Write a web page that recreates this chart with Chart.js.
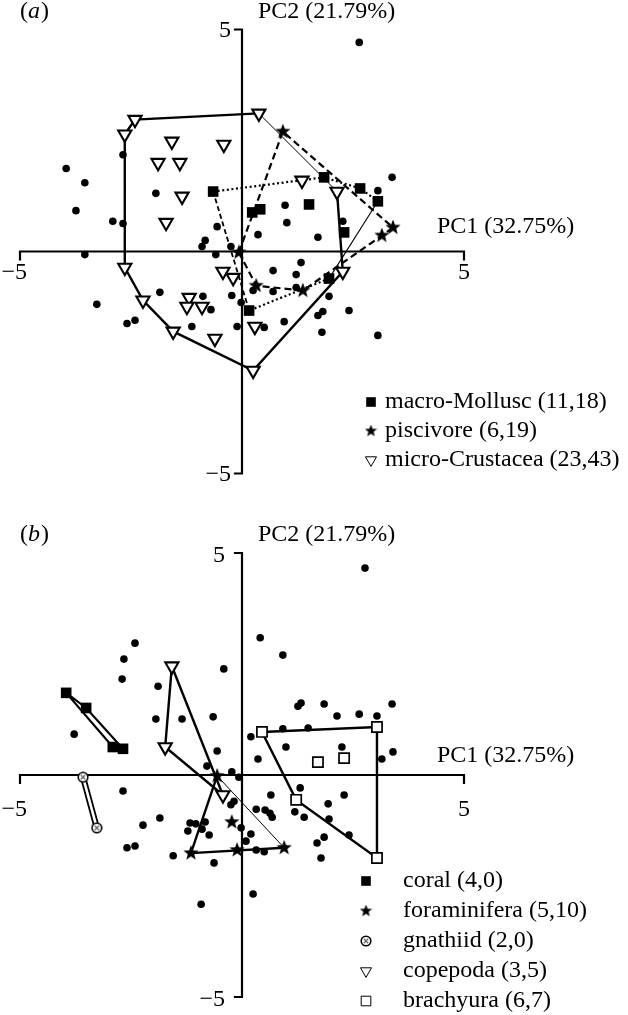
<!DOCTYPE html>
<html>
<head>
<meta charset="utf-8">
<script src="https://cdn.jsdelivr.net/npm/chart.js@4.4.0/dist/chart.umd.min.js"></script>
<style>
  html, body { margin: 0; padding: 0; background: #fff; }
  #wrap { position: relative; width: 628px; height: 1015px; }
  canvas { position: absolute; left: 0; }
</style>
</head>
<body>
<div id="wrap">
  <canvas id="chartA" width="628" height="507" style="top:0"></canvas>
  <canvas id="chartB" width="628" height="508" style="top:507px"></canvas>
</div>
<script>
// ---- panel (a) ----
const dotsAX = [-3.96,-3.54,-3.74,-2.91,-2.68,-2.68,-1.94,-0.56,-0.83,-0.90,-0.25,-0.59,-3.54,0.36,0.97,1.01,1.71,2.64,3.38,3.06,2.27,-3.27,-2.59,-2.41,-1.85,-1.13,-0.88,-0.70,-0.23,-0.02,-0.11,0.70,1.22,1.33,0.50,0.95,0.25,0.70,1.22,1.96,1.82,1.71,2.41,1.80,3.06];
const dotsAY = [1.87,1.55,0.92,0.68,0.63,2.18,1.31,0.56,0.25,0.11,0.11,-0.07,-0.07,0.38,1.04,0.65,0.32,4.71,1.67,1.37,0.68,-1.19,-1.62,-1.55,-0.92,-1.69,-1.01,-1.31,-0.99,-1.15,-1.69,-0.43,-0.52,-0.25,-1.71,-1.58,-0.88,-0.90,-0.81,-1.01,-1.35,-1.44,-1.33,-1.82,-1.89];

const molluscX = [-0.65,0.23,0.41,1.51,1.85,2.66,3.06,2.30,1.96,0.16];
const molluscY = [1.35,0.88,0.95,1.06,1.67,1.42,1.13,0.43,-0.61,-1.33];
const molluscHull = [0,4,5,6,8,9,0];

const pisciX = [0.92,3.40,3.15,1.37,0.32,-0.07];
const pisciY = [2.70,0.54,0.36,-0.88,-0.77,-0.02];
const pisciHull = [5,0,1,2,3,4,5];

const crustX = [-2.41,-2.64,0.38,-1.58,-0.41,-1.89,-1.40,-1.35,-1.71,1.35,2.14,-2.64,-2.23,-1.55,-1.19,-1.24,-0.90,-0.61,-0.43,-0.20,0.29,0.25,2.27];
const crustY = [2.97,2.64,3.11,2.48,2.41,2.00,2.00,1.24,0.65,1.60,1.35,-0.36,-1.10,-1.80,-1.04,-1.24,-1.24,-1.96,-0.45,-0.59,-1.69,-2.68,-0.45];
const crustHull = [1,0,2,10,22,21,13,12,11,1];

const legendA = ['macro-Mollusc (11,18)', 'piscivore (6,19)', 'micro-Crustacea (23,43)'];

// ---- panel (b) ----
const dotsBX = [-2.41,-2.66,-2.70,-1.89,-0.41,-3.78,-1.94,-1.35,-0.65,-0.56,-0.79,-0.23,-0.07,0.41,0.92,1.26,1.33,0.20,0.92,0.99,0.36,2.77,1.85,2.14,2.64,3.04,3.38,1.49,2.25,3.15,3.40,-2.68,-2.23,-1.85,-2.59,-2.41,-1.55,-1.17,-0.83,-1.22,-0.90,-1.04,-0.74,-0.25,-0.18,-0.02,0.20,0.09,0.32,0.52,0.63,0.68,0.32,0.50,-0.63,-0.92,0.25,0.65,1.31,1.19,1.40,1.94,1.96,2.30,2.41,1.85,1.69,1.78];
const dotsBY = [2.97,2.61,2.16,2.00,2.39,0.92,1.26,1.26,1.31,0.54,0.20,0.07,-0.05,3.09,2.70,1.55,1.62,0.86,1.04,0.63,0.36,4.66,1.60,1.33,1.37,1.33,1.60,1.06,0.63,0.36,0.52,-0.36,-1.13,-0.97,-1.64,-1.60,-1.82,-1.08,-1.06,-1.26,-1.22,-1.10,-1.35,-0.67,-0.59,-1.19,-1.33,-1.49,-0.77,-0.79,-0.86,-0.95,-1.69,-1.73,-1.98,-2.91,-2.68,-0.45,-0.29,-0.83,-0.95,-0.65,-0.99,-0.45,-1.35,-1.40,-1.53,-1.87];

const coralX = [-3.96,-3.51,-2.91,-2.68];
const coralY = [1.85,1.51,0.63,0.59];
const coralHull = [0,1,3,2,0];

const foramX = [-0.56,-0.23,-1.15,-0.11,0.95];
const foramY = [-0.02,-1.06,-1.76,-1.69,-1.64];
const foramHull = [2,0,4,2];

const gnathX = [-3.58,-3.27];
const gnathY = [-0.05,-1.19];

const copeX = [-1.58,-1.73,-0.43];
const copeY = [2.45,0.63,-0.45];
const copeHull = [0,1,2,0];

const brachX = [0.45,3.04,1.71,2.30,1.22,3.04];
const brachY = [0.97,1.08,0.29,0.38,-0.56,-1.87];
const brachHull = [0,1,5,4,0];

const legendB = ['coral (4,0)', 'foraminifera (5,10)', 'gnathiid (2,0)', 'copepoda (3,5)', 'brachyura (6,7)'];

const axisTitles = ['PC1 (32.75%)', 'PC2 (21.79%)'];
const FONT = '"Liberation Serif", "DejaVu Serif", serif';

// filled five point star as an image point style
function makeStar(size) {
  const c = document.createElement('canvas');
  c.width = c.height = size;
  const g = c.getContext('2d');
  const R = size / 2, r = R * 0.42;
  g.beginPath();
  for (let i = 0; i < 10; i++) {
    const a = -Math.PI / 2 + i * Math.PI / 5;
    const rr = i % 2 ? r : R;
    g.lineTo(R + rr * Math.cos(a), R + rr * Math.sin(a));
  }
  g.closePath();
  g.fillStyle = '#000';
  g.fill();
  return c;
}
// little open circle with a cross in it (gnathiid)
function makeGnath(size) {
  const c = document.createElement('canvas');
  c.width = c.height = size;
  const g = c.getContext('2d');
  const m = size / 2;
  g.beginPath();
  g.arc(m, m, m - 1.2, 0, Math.PI * 2);
  g.fillStyle = '#fff';
  g.fill();
  g.lineWidth = 1.6;
  g.strokeStyle = '#000';
  g.stroke();
  g.strokeStyle = '#666';
  g.lineWidth = 1.3;
  g.beginPath();
  g.moveTo(m - 2.2, m - 2.2); g.lineTo(m + 2.2, m + 2.2);
  g.moveTo(m + 2.2, m - 2.2); g.lineTo(m - 2.2, m + 2.2);
  g.stroke();
  return c;
}
const starBig = makeStar(16);
const starSmall = makeStar(13);
const gnathImg = makeGnath(12);

const pts = (xs, ys) => xs.map((x, i) => ({ x, y: ys[i] }));
const hullPts = (xs, ys, idx) => idx.map(i => ({ x: xs[i], y: ys[i] }));

// marker styles
const ST = {
  dot:    { pointStyle: 'circle', pointRadius: 3.8, pointBackgroundColor: '#000', pointBorderWidth: 0 },
  square: { pointStyle: 'rect', pointRadius: 7.5, pointBackgroundColor: '#000', pointBorderColor: '#000', pointBorderWidth: 0 },
  open:   { pointStyle: 'rect', pointRadius: 7.2, pointBackgroundColor: '#fff', pointBorderColor: '#000', pointBorderWidth: 1.7 },
  tri:    { pointStyle: 'triangle', pointRotation: 180, pointRadius: 7.6, pointBackgroundColor: '#fff', pointBorderColor: '#000', pointBorderWidth: 2.1 },
  star:   { pointStyle: starBig, pointRadius: 7 },
  gnath:  { pointStyle: gnathImg, pointRadius: 6 }
};

function markers(xs, ys, st) {
  return Object.assign({ data: pts(xs, ys), showLine: false, order: 0, clip: false }, st);
}
// hull outline; widths/dashes per segment
function hullLine(xs, ys, idx, widths, dashes, order) {
  return {
    data: hullPts(xs, ys, idx), showLine: true, pointRadius: 0, order: order || 2, clip: false,
    borderColor: '#000', borderWidth: 2.2, borderJoinStyle: 'miter', tension: 0,
    segment: {
      borderWidth: c => widths[c.p0DataIndex],
      borderDash: c => dashes[c.p0DataIndex]
    }
  };
}

// axes, titles and legend drawn on top of the library's scales
const deco = {
  id: 'deco',
  beforeDatasetsDraw(chart, args, o) {
    const { ctx, scales: { x, y } } = chart;
    const x0 = x.getPixelForValue(0), y0 = y.getPixelForValue(0);
    const xl = x.getPixelForValue(-5), xr = x.getPixelForValue(5);
    const yt = y.getPixelForValue(5), yb = y.getPixelForValue(-5);
    ctx.save();
    ctx.strokeStyle = '#000';
    ctx.lineWidth = 2.2;
    ctx.lineCap = 'square';
    ctx.beginPath();
    ctx.moveTo(xl, y0 + 8); ctx.lineTo(xl, y0); ctx.lineTo(xr, y0); ctx.lineTo(xr, y0 + 8);
    ctx.moveTo(x0 - 7, yt); ctx.lineTo(x0, yt); ctx.lineTo(x0, yb); ctx.lineTo(x0 - 7, yb);
    ctx.stroke();

    ctx.fillStyle = '#000';
    ctx.font = '24px ' + FONT;
    ctx.textBaseline = 'middle';
    ctx.textAlign = 'right';
    ctx.fillText('5', x0 - o.yLabDx, yt + o.yLabDy);
    ctx.fillText('\u22125', x0 - o.yLabDx, yb + o.yLabDy);
    ctx.fillText('\u22125', xl + 7, y0 + o.xLabDy);
    ctx.textAlign = 'center';
    ctx.fillText('5', xr, y0 + o.xLabDy);

    ctx.textAlign = 'left';
    ctx.textBaseline = 'alphabetic';
    ctx.fillText(axisTitles[1], 258, o.titleY);
    ctx.fillText(axisTitles[0], 437, y0 + o.pc1Dy);
    // panel letter
    ctx.fillText('(', 20, o.titleY);
    const w1 = ctx.measureText('(').width;
    ctx.font = 'italic 24px ' + FONT;
    ctx.fillText(o.letter, 20 + w1, o.titleY);
    const w2 = ctx.measureText(o.letter).width;
    ctx.font = '24px ' + FONT;
    ctx.fillText(')', 20 + w1 + w2 + 1, o.titleY);
    ctx.restore();
  },
  afterDraw(chart, args, o) {
    const { ctx } = chart;
    ctx.save();
    ctx.font = '24px ' + FONT;
    ctx.textBaseline = 'middle';
    ctx.textAlign = 'left';
    o.items.forEach((it, i) => {
      const yy = o.legY + i * o.legStep;
      ctx.fillStyle = it.fill;
      ctx.strokeStyle = '#000';
      Chart.helpers.drawPoint(ctx, { pointStyle: it.style, radius: it.r, rotation: it.rot || 0, borderWidth: it.bw || 0 }, o.legMX, yy);
      ctx.fillStyle = '#000';
      ctx.fillText(it.text, o.legTX, yy);
    });
    ctx.restore();
  }
};

function scaleOpts() {
  return {
    x: { type: 'linear', min: -5, max: 5, display: false },
    y: { type: 'linear', min: -5, max: 5, display: false }
  };
}

const dotted = [2, 2.6];
const dashed = [7, 4];

new Chart(document.getElementById('chartA'), {
  type: 'scatter',
  data: {
    datasets: [
      markers(molluscX, molluscY, ST.square),
      markers(pisciX, pisciY, ST.star),
      markers(crustX, crustY, ST.tri),
      Object.assign({ data: pts(dotsAX, dotsAY), order: 1, clip: false }, ST.dot),
      hullLine(crustX, crustY, crustHull, [2.4, 2.4, 1, 2.4, 2.4, 2.4, 2.4, 2.4, 2.4], [[], [], [], [], [], [], [], [], []]),
      hullLine(pisciX, pisciY, pisciHull, [2.2, 2.2, 2.2, 2.2, 2.2, 2.2], [dashed, dashed, dashed, dashed, dashed, dashed]),
      hullLine(molluscX, molluscY, molluscHull, [2.2, 2.2, 2.2, 1.1, 2.2, 1.8], [dotted, dotted, dotted, [], dotted, [5, 3]])
    ]
  },
  options: {
    responsive: false,
    animation: false,
    events: [],
    layout: { padding: { left: 20, right: 164, top: 29.5, bottom: 33.5 } },
    scales: scaleOpts(),
    plugins: {
      legend: { display: false },
      tooltip: { enabled: false },
      deco: {
        letter: 'a', titleY: 18, pc1Dy: -19, xLabDy: 21, yLabDx: 11, yLabDy: 1,
        legMX: 371, legTX: 385, legY: 402, legStep: 29,
        items: [
          { text: legendA[0], style: 'rect', r: 6.8, fill: '#000' },
          { text: legendA[1], style: starSmall, r: 6, fill: '#000' },
          { text: legendA[2], style: 'triangle', r: 6.4, rot: 180, fill: '#fff', bw: 2 }
        ]
      }
    }
  },
  plugins: [deco]
});

new Chart(document.getElementById('chartB'), {
  type: 'scatter',
  data: {
    datasets: [
      markers(coralX, coralY, ST.square),
      markers(foramX, foramY, ST.star),
      markers(gnathX, gnathY, ST.gnath),
      markers(copeX, copeY, ST.tri),
      markers(brachX, brachY, ST.open),
      Object.assign({ data: pts(dotsBX, dotsBY), order: 1, clip: false }, ST.dot),
      hullLine(coralX, coralY, coralHull, [2.2, 2.2, 2.2, 2.2], [[], [], [], []]),
      hullLine(foramX, foramY, foramHull, [2.4, 1, 2.4], [[], [], []]),
      hullLine(copeX, copeY, copeHull, [2.4, 2.4, 2.4], [[], [], []]),
      hullLine(brachX, brachY, brachHull, [2.4, 2.4, 2.4, 2.4], [[], [], [], []]),
      // gnathiid pair: black band with white core
      Object.assign(hullLine(gnathX, gnathY, [0, 1], [2.6], [[]], 2), { borderColor: '#fff' }),
      hullLine(gnathX, gnathY, [0, 1], [6.2], [[]], 3)
    ]
  },
  options: {
    responsive: false,
    animation: false,
    events: [],
    layout: { padding: { left: 20, right: 164, top: 46, bottom: 18 } },
    scales: scaleOpts(),
    plugins: {
      legend: { display: false },
      tooltip: { enabled: false },
      deco: {
        letter: 'b', titleY: 34, pc1Dy: -13, xLabDy: 35, yLabDx: 17, yLabDy: 3,
        legMX: 366, legTX: 403, legY: 374, legStep: 30,
        items: [
          { text: legendB[0], style: 'rect', r: 6.8, fill: '#000' },
          { text: legendB[1], style: starSmall, r: 6, fill: '#000' },
          { text: legendB[2], style: gnathImg, r: 6, fill: '#000' },
          { text: legendB[3], style: 'triangle', r: 6.4, rot: 180, fill: '#fff', bw: 2 },
          { text: legendB[4], style: 'rect', r: 6.8, fill: '#fff', bw: 1.6 }
        ]
      }
    }
  },
  plugins: [deco]
});
</script>
</body>
</html>
